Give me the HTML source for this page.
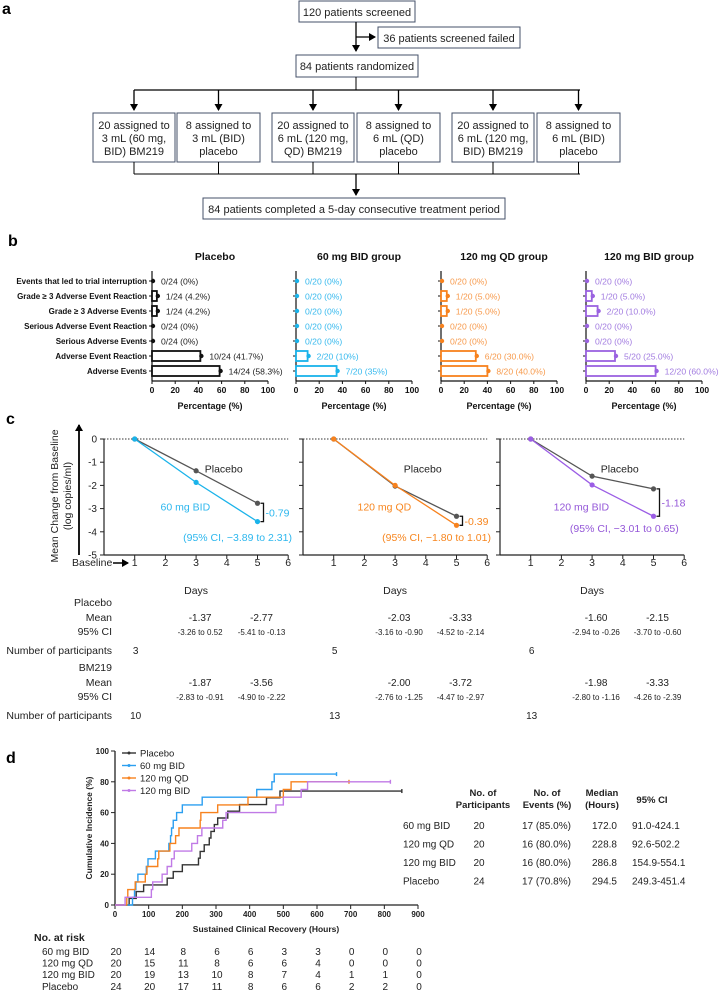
<!DOCTYPE html>
<html><head><meta charset="utf-8">
<style>
html,body{margin:0;padding:0;background:#fff;}
svg{display:block;font-family:"Liberation Sans",Arial,sans-serif;}
.fc{font-size:11px;fill:#222;}
.bold{font-weight:bold;}
</style></head>
<body>
<svg id="fig" width="720" height="993" viewBox="0 0 720 993" xmlns="http://www.w3.org/2000/svg">
<defs>
<marker id="ah" markerWidth="8" markerHeight="8" refX="6" refY="4" orient="auto" markerUnits="userSpaceOnUse"><path d="M0,0 L7,4 L0,8 z" fill="#000"/></marker>
</defs>
<!-- Panel a -->
<g>
<text x="2" y="14" font-size="16" class="bold">a</text>
<rect x="299" y="1" width="116" height="21" fill="#fff" stroke="#44506a"/>
<text x="357" y="16" text-anchor="middle" class="fc">120 patients screened</text>
<line x1="356" y1="22" x2="356" y2="51" stroke="#000" stroke-width="1.3" marker-end="url(#ah)"/>
<line x1="356" y1="37" x2="375" y2="37" stroke="#000" stroke-width="1.3" marker-end="url(#ah)"/>
<rect x="378" y="27" width="142" height="21" fill="#fff" stroke="#44506a"/>
<text x="449" y="42" text-anchor="middle" class="fc">36 patients screened failed</text>
<rect x="296" y="55" width="122" height="22" fill="#fff" stroke="#44506a"/>
<text x="357" y="70" text-anchor="middle" class="fc">84 patients randomized</text>
<line x1="356" y1="77" x2="356" y2="90" stroke="#000"/>
<line x1="134" y1="90" x2="580" y2="90" stroke="#000" stroke-width="1.3"/>
<g id="arms"></g>
<line x1="134" y1="174" x2="580" y2="174" stroke="#000"/>
<line x1="356" y1="174" x2="356" y2="195" stroke="#000" stroke-width="1.3" marker-end="url(#ah)"/>
<rect x="203" y="198" width="302" height="21" fill="#fff" stroke="#44506a"/>
<text x="354" y="213" text-anchor="middle" class="fc">84 patients completed a 5-day consecutive treatment period</text>
</g>
<text x="8" y="246" font-size="16" class="bold">b</text>
<g id="panelB"></g>
<text x="6" y="424" font-size="16" class="bold">c</text>
<g id="panelC"></g>
<text x="6" y="763" font-size="16" class="bold">d</text>
<g id="panelD"></g>
</svg>
<script>
const NS="http://www.w3.org/2000/svg";
function mk(parent,tag,attrs,text){const e=document.createElementNS(NS,tag);for(const k in attrs)e.setAttribute(k,attrs[k]);if(text!==undefined)e.textContent=text;parent.appendChild(e);return e;}

// ---------- Panel a arms ----------
const armLines1=["20 assigned to","8 assigned to","20 assigned to","8 assigned to","20 assigned to","8 assigned to"];
const armLines2=["3 mL (60 mg,","3 mL (BID)","6 mL (120 mg,","6 mL (QD)","6 mL (120 mg,","6 mL (BID)"];
const armLines3=["BID) BM219","placebo","QD) BM219","placebo","BID) BM219","placebo"];
const armX=[93,177,272,357,452,537];const armW=[82,83,82,83,82,83];
const arms=document.getElementById('arms');
armX.forEach((x,i)=>{const cx=x+armW[i]/2;
 mk(arms,'line',{x1:cx,y1:90,x2:cx,y2:110,stroke:'#000','stroke-width':1.3,'marker-end':'url(#ah)'});
 const r=mk(arms,'rect',{x:x,y:113,width:armW[i],height:49,fill:'#fff',stroke:'#44506a'});
 
 
 [armLines1[i],armLines2[i],armLines3[i]].forEach((t,j)=>{mk(arms,'text',{x:cx,y:129+j*13,'text-anchor':'middle',class:'fc'},t);});
 mk(arms,'line',{x1:cx,y1:162,x2:cx,y2:174,stroke:'#000'});
});

// ---------- Panel b ----------
const aeCategories=["Events that led to trial interruption","Grade \u2265 3 Adverse Event Reaction","Grade \u2265 3 Adverse Events","Serious Adverse Event Reaction","Serious Adverse Events","Adverse Event Reaction","Adverse Events"];
const aeGroups=["Placebo","60 mg BID group","120 mg QD group","120 mg BID group"];
const aePlacebo=[0,4.2,4.2,0,0,41.7,58.3];
const ae60BID=[0,0,0,0,0,10,35];
const ae120QD=[0,5,5,0,0,30,40];
const ae120BID=[0,5,10,0,0,25,60];
const aeLabPlacebo=["0/24 (0%)","1/24 (4.2%)","1/24 (4.2%)","0/24 (0%)","0/24 (0%)","10/24 (41.7%)","14/24 (58.3%)"];
const aeLab60BID=["0/20 (0%)","0/20 (0%)","0/20 (0%)","0/20 (0%)","0/20 (0%)","2/20 (10%)","7/20 (35%)"];
const aeLab120QD=["0/20 (0%)","1/20 (5.0%)","1/20 (5.0%)","0/20 (0%)","0/20 (0%)","6/20 (30.0%)","8/20 (40.0%)"];
const aeLab120BID=["0/20 (0%)","1/20 (5.0%)","2/20 (10.0%)","0/20 (0%)","0/20 (0%)","5/20 (25.0%)","12/20 (60.0%)"];
const pctTicks=[0,20,40,60,80,100];
const B=document.getElementById('panelB');
const bAxisX=[152,296,441,586];const bScale=1.16;
const bColors=["#111","#1ab3ea","#f7821e","#9b63e0"];
const bText=["#222","#36b9ee","#f79a4c","#a27ce0"];
const bVals=[aePlacebo,ae60BID,ae120QD,ae120BID];
const bLabs=[aeLabPlacebo,aeLab60BID,aeLab120QD,aeLab120BID];
function rowY(i){return 281+i*15;}
aeCategories.forEach((c,i)=>{const t=mk(B,'text',{x:147,y:rowY(i)+3,'text-anchor':'end','font-size':8,'font-weight':'bold',fill:'#111'},c);
 
 });
bAxisX.forEach((ax,g)=>{
 const xs=v=>ax+v*bScale;
 const tt=mk(B,'text',{x:ax+63,y:260,'text-anchor':'middle','font-size':10.5,'font-weight':'bold',fill:'#111'},aeGroups[g]);
 
 
 mk(B,'line',{x1:ax,y1:271,x2:ax,y2:381,stroke:'#111','stroke-width':1.2});
 mk(B,'line',{x1:ax,y1:381,x2:xs(100),y2:381,stroke:'#111','stroke-width':1.2});
 pctTicks.forEach(t=>{mk(B,'line',{x1:xs(t),y1:381,x2:xs(t),y2:384,stroke:'#111'});
  mk(B,'text',{x:xs(t),y:393,'text-anchor':'middle','font-size':8.5,'font-weight':'bold',fill:'#111'},t);});
 mk(B,'text',{x:ax+58,y:409,'text-anchor':'middle','font-size':9,'font-weight':'bold',fill:'#111'},'Percentage (%)');
 bVals[g].forEach((v,i)=>{const y=rowY(i);
  mk(B,'line',{x1:ax-3,y1:y,x2:ax,y2:y,stroke:'#111'});
  if(v>0){const r=mk(B,'rect',{x:ax,y:y-5,width:xs(v)-ax,height:10,fill:'#fff',stroke:bColors[g],'stroke-width':1.8});
   
   }
  mk(B,'circle',{cx:xs(v)+1,cy:y,r:2.2,fill:bColors[g]});
  mk(B,'text',{x:xs(v)+9,y:y+3.5,'font-size':8.6,fill:bText[g]},bLabs[g][i]);
 });
});

// ---------- Panel c ----------
const cDays=[1,3,5];
const cPlacebo1=[0,-1.37,-2.77], cDrug1=[0,-1.87,-3.56];
const cPlacebo2=[0,-2.03,-3.33], cDrug2=[0,-2.00,-3.72];
const cPlacebo3=[0,-1.60,-2.15], cDrug3=[0,-1.98,-3.33];
const cDrugNames=["60 mg BID","120 mg QD","120 mg BID"];
const cDiffs=["-0.79","-0.39","-1.18"];
const cCIs=["(95% CI, \u22123.89 to 2.31)","(95% CI, \u22121.80 to 1.01)","(95% CI, \u22123.01 to 0.65)"];
const cYTicks=[0,-1,-2,-3,-4,-5];
const cXTicks=[1,2,3,4,5,6];
const cPlaceboMeanLab=[["-1.37","-2.77"],["-2.03","-3.33"],["-1.60","-2.15"]];
const cPlaceboCILab=[["-3.26 to 0.52","-5.41 to -0.13"],["-3.16 to -0.90","-4.52 to -2.14"],["-2.94 to -0.26","-3.70 to -0.60"]];
const cDrugMeanLab=[["-1.87","-3.56"],["-2.00","-3.72"],["-1.98","-3.33"]];
const cDrugCILab=[["-2.83 to -0.91","-4.90 to -2.22"],["-2.76 to -1.25","-4.47 to -2.97"],["-2.80 to -1.16","-4.26 to -2.39"]];
const cNPlacebo=["3","5","6"], cNDrug=["10","13","13"];
const C=document.getElementById('panelC');
const cAxisX=[104,303,500];const dayW=30.7;
function cY(v){return 439+(-v)*23.2;}
const cCol=["#1ab3ea","#f7821e","#9b5de5"],cTxt=["#2db7ee","#f7861f","#9457d8"];
const cP=[cPlacebo1,cPlacebo2,cPlacebo3],cD=[cDrug1,cDrug2,cDrug3];
mk(C,'line',{x1:79,y1:555,x2:79,y2:425,stroke:'#000','stroke-width':1.8,'marker-end':'url(#ah)'});
const yl=mk(C,'text',{transform:'translate(58,496) rotate(-90)','text-anchor':'middle','font-size':10.5,fill:'#222'});
mk(yl,'tspan',{x:0,dy:0},'Mean Change from Baseline');mk(yl,'tspan',{x:0,dy:13},'(log copies/ml)');


cYTicks.forEach(t=>mk(C,'text',{x:97,y:cY(t)+3.5,'text-anchor':'end','font-size':10,fill:'#222'},t));
mk(C,'text',{x:72,y:566,'font-size':10.5,fill:'#222'},'Baseline');
mk(C,'line',{x1:113,y1:563,x2:128,y2:563,stroke:'#000','stroke-width':1.5,'marker-end':'url(#ah)'});
cAxisX.forEach((ax,p)=>{
 const xs=d=>ax+d*dayW;
 mk(C,'line',{x1:ax,y1:cY(0),x2:ax,y2:cY(-5),stroke:'#222','stroke-width':1.2});
 mk(C,'line',{x1:ax,y1:cY(-5),x2:xs(6),y2:cY(-5),stroke:'#222','stroke-width':1.2});
 mk(C,'line',{x1:ax,y1:cY(0),x2:xs(6),y2:cY(0),stroke:'#333','stroke-dasharray':'1.5,1.5'});
 cYTicks.forEach(t=>mk(C,'line',{x1:ax-4,y1:cY(t),x2:ax,y2:cY(t),stroke:'#222'}));
 cXTicks.forEach(t=>{mk(C,'line',{x1:xs(t),y1:cY(-5),x2:xs(t),y2:cY(-5)+4,stroke:'#222'});
  mk(C,'text',{x:xs(t),y:566,'text-anchor':'middle','font-size':10.5,fill:'#222'},t);});
 mk(C,'text',{x:xs(3),y:594,'text-anchor':'middle','font-size':10.5,fill:'#222'},'Days');
 const series=[[cP[p],'#555'],[cD[p],cCol[p]]];
 series.forEach(([vals,col],s)=>{
  const pts=cDays.map((d,i)=>xs(d)+','+cY(vals[i])).join(' ');
  const pl=mk(C,'polyline',{points:pts,fill:'none',stroke:col,'stroke-width':1.3});
  
  
  cDays.forEach((d,i)=>mk(C,'circle',{cx:xs(d),cy:cY(vals[i]),r:2.6,fill:col}));
 });
 const bx=xs(5)+6, y1=cY(cP[p][2]), y2=cY(cD[p][2]);
 mk(C,'path',{d:`M${bx-3},${y1} H${bx} V${y2} H${bx-3}`,fill:'none',stroke:'#111','stroke-width':1.3});
 mk(C,'text',{x:bx+2,y:(y1+y2)/2+4,'font-size':10.5,fill:cTxt[p]},cDiffs[p]);
 mk(C,'text',{x:xs(3.9),y:cY(-1.27)+4,'text-anchor':'middle','font-size':10.5,fill:'#222'},'Placebo');
 mk(C,'text',{x:xs(2.65),y:cY(-2.92)+4,'text-anchor':'middle','font-size':10.5,fill:cTxt[p]},cDrugNames[p]);
 mk(C,'text',{x:p==2?xs(4.05):xs(4.35),y:p==2?532:541,'text-anchor':'middle','font-size':10.5,fill:cTxt[p]},cCIs[p]);
 [[cPlaceboMeanLab,621,10],[cPlaceboCILab,635,8],[cDrugMeanLab,686,10],[cDrugCILab,700,8]].forEach(([arr,y,fs])=>{
  arr[p].forEach((t,i)=>mk(C,'text',{x:xs(i?5:3)+4,y:y,'text-anchor':'middle','font-size':fs,fill:'#222'},t));
 });
 mk(C,'text',{x:xs(1)+1,y:654,'text-anchor':'middle','font-size':10,fill:'#222'},cNPlacebo[p]);
 mk(C,'text',{x:xs(1)+1,y:719,'text-anchor':'middle','font-size':10,fill:'#222'},cNDrug[p]);
});
[["Placebo",606],["Mean",621],["95% CI",635],["Number of participants",654],["BM219",671],["Mean",686],["95% CI",700],["Number of participants",719]].forEach(([t,y])=>{
 const e=mk(C,'text',{x:112,y:y,'text-anchor':'end','font-size':10.5,fill:'#222'},t);
 
 
});

// ---------- Panel d ----------
const kmXTicks=[0,100,200,300,400,500,600,700,800,900];
const kmYTicks=[0,20,40,60,80,100];
const kmNames=["Placebo","60 mg BID","120 mg QD","120 mg BID"];
const km60Times=[52,58,62,68,93,98,120,160,165,168,173,183,200,259,421,466,473];
const km60Pct=[5,10,15,20,25,30,35,40,45,50,55,60,65,70,75,80,85];
const km60End=658;
const kmQDTimes=[35,38,60,90,95,127,130,163,180,190,253,255,305,395,500,523];
const kmQDPct=[5,10,15,20,25,30,35,40,45,50,55,60,65,70,75,80];
const kmQDEnd=695;
const kmBIDTimes=[30,108,112,140,155,168,176,228,245,258,320,330,478,500,553,572];
const kmBIDPct=[5,10,15,20,25,30,35,40,45,50,55,60,65,70,75,80];
const kmBIDEnd=818;
const kmPlTimes=[42,63,85,155,173,200,248,253,265,280,285,295,305,335,370,450,490];
const kmPlPct=[4.3,8.7,13,17.4,21.7,26.1,30.4,34.8,39.1,43.5,47.8,52.2,56.5,60.9,65.2,69.6,74];
const kmPlEnd=852;
const riskRows=["60 mg BID","120 mg QD","120 mg BID","Placebo"];
const risk60=[20,14,8,6,6,3,3,0,0,0];
const riskQD=[20,15,11,8,6,6,4,0,0,0];
const riskBID=[20,19,13,10,8,7,4,1,1,0];
const riskPl=[24,20,17,11,8,6,6,2,2,0];
const sumNames=["60 mg BID","120 mg QD","120 mg BID","Placebo"];
const sumN=["20","20","20","24"];
const sumEvents=["17 (85.0%)","16 (80.0%)","16 (80.0%)","17 (70.8%)"];
const sumMedian=["172.0","228.8","286.8","294.5"];
const sumCI=["91.0-424.1","92.6-502.2","154.9-554.1","249.3-451.4"];
const D=document.getElementById('panelD');
const dx=h=>115+h*(303/900), dy=p=>905-p*1.54;
mk(D,'line',{x1:dx(0),y1:dy(0),x2:dx(0),y2:dy(100),stroke:'#222','stroke-width':1.3});
mk(D,'line',{x1:dx(0),y1:dy(0),x2:dx(900),y2:dy(0),stroke:'#222','stroke-width':1.3});
kmYTicks.forEach(t=>{mk(D,'line',{x1:dx(0)-4,y1:dy(t),x2:dx(0),y2:dy(t),stroke:'#222'});
 mk(D,'text',{x:dx(0)-6,y:dy(t)+3,'text-anchor':'end','font-size':8,'font-weight':'bold',fill:'#222'},t);});
kmXTicks.forEach(t=>{mk(D,'line',{x1:dx(t),y1:dy(0),x2:dx(t),y2:dy(0)+4,stroke:'#222'});
 mk(D,'text',{x:dx(t),y:917,'text-anchor':'middle','font-size':8,'font-weight':'bold',fill:'#222'},t);});
mk(D,'text',{x:266,y:932,'text-anchor':'middle','font-size':8.5,'font-weight':'bold',fill:'#222'},'Sustained Clinical Recovery (Hours)');
mk(D,'text',{transform:'translate(92,828) rotate(-90)','text-anchor':'middle','font-size':8.5,'font-weight':'bold',fill:'#222'},'Cumulative Incidence (%)');
const kmSeries=[[kmPlTimes,kmPlPct,kmPlEnd,'#333'],[km60Times,km60Pct,km60End,'#2c9ff0'],[kmQDTimes,kmQDPct,kmQDEnd,'#f7821e'],[kmBIDTimes,kmBIDPct,kmBIDEnd,'#c07ae6']];
kmSeries.forEach(([ts,ps,end,col],s)=>{
 let d=`M${dx(0)},${dy(0)}`;
 ts.forEach((t,i)=>{d+=` H${dx(t)} V${dy(ps[i])}`;});
 d+=` H${dx(end)}`;
 const pth=mk(D,'path',{d:d,fill:'none',stroke:col,'stroke-width':1.4});
 
 
 mk(D,'line',{x1:dx(end),y1:dy(ps[ps.length-1])-2,x2:dx(end),y2:dy(ps[ps.length-1])+2,stroke:col,'stroke-width':1.4});
 const ly=753+s*12.5;
 mk(D,'line',{x1:122,y1:ly,x2:136,y2:ly,stroke:col,'stroke-width':1.4});
 mk(D,'circle',{cx:129,cy:ly,r:1.5,fill:col});
 const lt=mk(D,'text',{x:140,y:ly+3.5,'font-size':9.5,fill:'#222'},kmNames[s]);
 
 
});
mk(D,'text',{x:34,y:941,'font-size':10.5,'font-weight':'bold',fill:'#222'},'No. at risk');
[risk60,riskQD,riskBID,riskPl].forEach((row,r)=>{const y=955+r*11.6;
 mk(D,'text',{x:42,y:y,'font-size':10,fill:'#222'},riskRows[r]);
 row.forEach((v,i)=>mk(D,'text',{x:dx(kmXTicks[i])+1,y:y,'text-anchor':'middle','font-size':10,fill:'#222'},v));
});
[["No. of",483,796],["Participants",483,808],["No. of",547,796],["Events (%)",547,808],["Median",602,796],["(Hours)",602,808],["95% CI",652,803]].forEach(([t,x,y])=>mk(D,'text',{x:x,y:y,'text-anchor':'middle','font-size':9.5,'font-weight':'bold',fill:'#222'},t));
sumNames.forEach((n,i)=>{const y=829+i*18.5;
 mk(D,'text',{x:403,y:y,'font-size':10,fill:'#222'},n);
 mk(D,'text',{x:479,y:y,'text-anchor':'middle','font-size':10,fill:'#222'},sumN[i]);
 mk(D,'text',{x:522,y:y,'font-size':10,fill:'#222'},sumEvents[i]);
 mk(D,'text',{x:617,y:y,'text-anchor':'end','font-size':10,fill:'#222'},sumMedian[i]);
 mk(D,'text',{x:632,y:y,'font-size':10,fill:'#222'},sumCI[i]);
});
</script>
</body></html>
